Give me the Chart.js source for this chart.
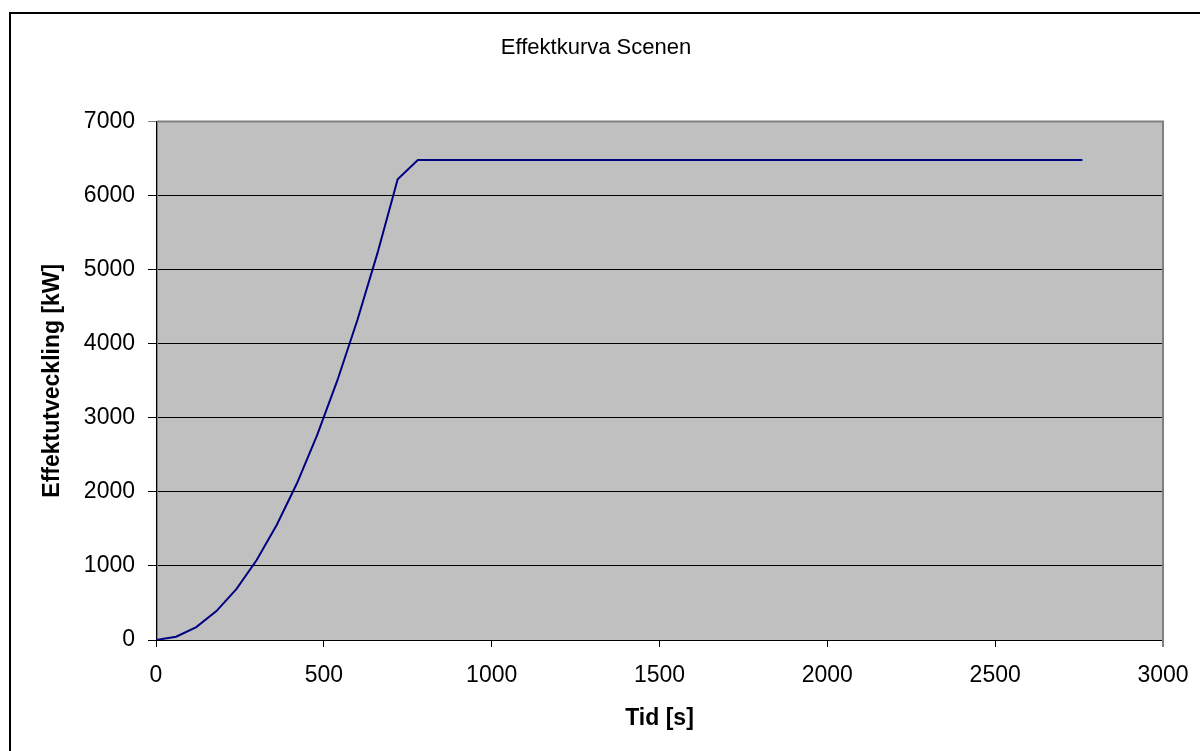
<!DOCTYPE html>
<html lang="sv">
<head>
    <meta charset="UTF-8">
    <title>Effektkurva Scenen</title>
    <script src="https://cdn.jsdelivr.net/npm/chart.js"></script>
    <style>
        html, body {
            margin: 0;
            padding: 0;
            background: #fff;
        }
        canvas {
            display: block;
        }
    </style>
</head>
<body>
    <canvas id="effektChart" width="1200" height="751"></canvas>
    <script>
        // tid i sekunder och effekt i kW
        const tider = [0, 60, 120, 180, 240, 300, 360, 420, 480, 540, 600, 660, 720, 780, 2760];
        const effekt = [0, 45, 175, 390, 690, 1080, 1555, 2115, 2765, 3500, 4320, 5225, 6220, 6480, 6480];

        const xTicks = [0, 500, 1000, 1500, 2000, 2500, 3000];
        const yTicks = [0, 1000, 2000, 3000, 4000, 5000, 6000, 7000];

        const FONT = '"Liberation Sans", Arial, sans-serif';

        const punkter = tider.map((t, i) => ({ x: t, y: effekt[i] }));

        // grå bakgrund i diagramytan och ram runt hela bilden
        const ytaPlugin = {
            id: 'yta',
            beforeDraw(chart) {
                const { ctx, chartArea: a } = chart;
                ctx.save();
                ctx.fillStyle = '#c0c0c0';
                ctx.fillRect(a.left, a.top, a.right - a.left, a.bottom - a.top);
                ctx.strokeStyle = '#000';
                ctx.lineWidth = 2;
                ctx.beginPath();
                ctx.moveTo(10, 751);
                ctx.lineTo(10, 13);
                ctx.lineTo(1200, 13);
                ctx.stroke();
                ctx.restore();
            },
            beforeDatasetsDraw(chart) {
                const { ctx, chartArea: a } = chart;
                ctx.save();
                ctx.strokeStyle = '#808080';
                ctx.lineWidth = 2;
                ctx.beginPath();
                ctx.moveTo(a.left + 1, a.top);
                ctx.lineTo(a.right, a.top);
                ctx.lineTo(a.right, a.bottom + 7);
                ctx.stroke();
                ctx.fillStyle = '#808080';
                ctx.fillRect(a.left + 1, a.top, 1, a.bottom - a.top);
                ctx.restore();
            }
        };

        new Chart(document.getElementById('effektChart'), {
            type: 'line',
            data: {
                datasets: [{
                    data: punkter,
                    borderColor: '#000080',
                    borderWidth: 2,
                    pointRadius: 0,
                    tension: 0,
                    fill: false
                }]
            },
            options: {
                responsive: false,
                animation: false,
                layout: {
                    padding: { left: 29, top: 0, right: 37, bottom: 0 }
                },
                plugins: {
                    legend: { display: false },
                    tooltip: { enabled: false },
                    title: {
                        display: true,
                        text: 'Effektkurva Scenen',
                        color: '#000',
                        font: { family: FONT, size: 22, weight: 'normal' },
                        padding: { top: 35, bottom: 60 }
                    }
                },
                scales: {
                    x: {
                        type: 'linear',
                        min: 0,
                        max: 3000,
                        afterBuildTicks: axis => {
                            axis.ticks = xTicks.map(v => ({ value: v }));
                        },
                        afterFit: axis => {
                            axis.height = 111;
                            // sista etiketten får sticka ut i högermarginalen
                            axis.paddingLeft = 0;
                            axis.paddingRight = 0;
                        },
                        ticks: {
                            color: '#000',
                            font: { family: FONT, size: 23 },
                            padding: 15,
                            maxRotation: 0,
                            callback: v => String(v)
                        },
                        grid: {
                            drawOnChartArea: false,
                            tickLength: 7,
                            color: c => (c.tick && c.tick.value === 3000 ? '#808080' : '#000')
                        },
                        border: { color: '#000', width: 1 },
                        title: {
                            display: true,
                            text: 'Tid [s]',
                            color: '#000',
                            font: { family: FONT, size: 23, weight: 'bold' },
                            padding: { top: 0, bottom: 19 }
                        }
                    },
                    y: {
                        type: 'linear',
                        min: 0,
                        max: 7000,
                        afterBuildTicks: axis => {
                            axis.ticks = yTicks.map(v => ({ value: v }));
                        },
                        afterFit: axis => {
                            axis.width = 127;
                        },
                        ticks: {
                            color: '#000',
                            font: { family: FONT, size: 23 },
                            padding: 13,
                            callback: v => String(v)
                        },
                        grid: {
                            tickLength: 8,
                            lineWidth: 1,
                            color: c => (c.tick && c.tick.value === 7000 ? '#808080' : '#000')
                        },
                        border: { color: '#000', width: 1 },
                        title: {
                            display: true,
                            text: 'Effektutveckling [kW]',
                            color: '#000',
                            font: { family: FONT, size: 23, weight: 'bold' },
                            padding: { top: 10, bottom: 0 }
                        }
                    }
                }
            },
            plugins: [ytaPlugin]
        });
    </script>
</body>
</html>
